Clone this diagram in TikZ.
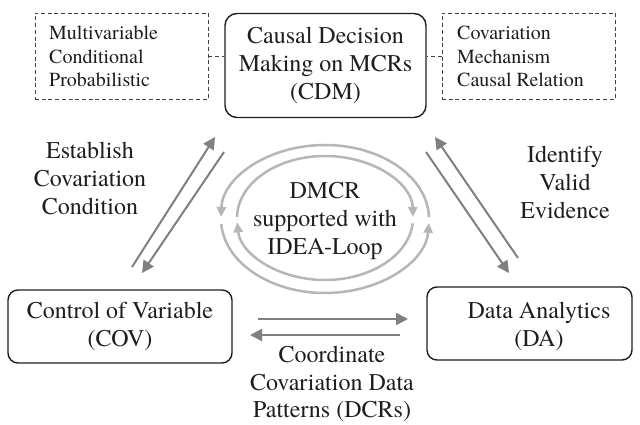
\documentclass[tikz,border=0pt]{standalone}
\usepackage{fontspec}
\IfFontExistsTF{texgyretermes-regular.otf}
  {\setmainfont{texgyretermes-regular.otf}[BoldFont=texgyretermes-bold.otf]}
  {}
\usetikzlibrary{arrows.meta}
\definecolor{flowgray}{RGB}{128,128,128}
\definecolor{loopgray}{RGB}{182,182,182}
\definecolor{ink}{RGB}{30,30,30}
\begin{document}
\begin{tikzpicture}[x=1pt,y=-1pt,
  mainfont/.style={font=\rmfamily\fontsize{24}{28}\selectfont},
  sidefont/.style={font=\rmfamily\fontsize{20}{23.5}\selectfont},
  procbox/.style={draw=ink, line width=1.4pt, rounded corners=12pt, inner sep=0pt,
                  mainfont, align=center, text=ink},
  notebox/.style={draw=ink!85, line width=0.9pt, dash pattern=on 4pt off 2.7pt, inner sep=0pt},
  notetext/.style={sidefont, align=left, anchor=west, inner sep=0pt, text=ink},
  flow/.style={draw=flowgray, line width=2pt, -{Triangle[length=12pt,width=12pt]}},
  loop/.style={draw=loopgray, line width=2.5pt, -{Triangle[length=10pt,width=9pt]}},
  tag/.style={mainfont, align=center, text=ink, inner sep=0pt},
]
\useasboundingbox[fill=white] (0,0) rectangle (640,425);

% --- top row: decision box and its two notes
\node[procbox, minimum width=201pt, minimum height=104pt] (cdm) at (325.5,65.5)
  {Causal Decision\\Making on MCRs\\(CDM)};
\node[notebox, minimum width=173pt, minimum height=86pt] (lnote) at (121.5,56) {};
\node[notetext] (ltext) at (49,56.5) {Multivariable\\Conditional\\Probabilistic};
\node[notebox, minimum width=173pt, minimum height=86pt] (rnote) at (528.5,56) {};
\node[notetext] (rtext) at (457,56.5) {Covariation\\Mechanism\\Causal Relation};
\draw[notebox] (lnote.east) -- (lnote.east -| cdm.west);
\draw[notebox] (rnote.west) -- (rnote.west -| cdm.east);

% --- bottom row
\node[procbox, rounded corners=10pt, minimum width=224pt, minimum height=73pt] (cov) at (120,326.5)
  {Control of Variable\\(COV)};
\node[draw=ink, line width=1.4pt, rounded corners=10pt, minimum width=205pt, minimum height=73pt,
      inner sep=0pt] (da) at (529.5,323.5) {};
\node[tag] (datext) at (539,326) {Data Analytics\\(DA)};

% --- flow arrows between the three boxes
\coordinate (l1s) at (132,267);  \coordinate (l1e) at (215,137);
\coordinate (l2s) at (224,152);  \coordinate (l2e) at (142,273);
\coordinate (r1s) at (518,258);  \coordinate (r1e) at (435,137);
\coordinate (r2s) at (426,152);  \coordinate (r2e) at (509,273);
\coordinate (h1s) at (258,319);  \coordinate (h1e) at (408,319);
\coordinate (h2s) at (400,335);  \coordinate (h2e) at (250,335);
\draw[flow] (l1s) -- (l1e);
\draw[flow] (l2s) -- (l2e);
\draw[flow] (r1s) -- (r1e);
\draw[flow] (r2s) -- (r2e);
\draw[flow] (h1s) -- (h1e);
\draw[flow] (h2s) -- (h2e);

% --- arrow labels
\node[tag] (est) at (90,178) {Establish\\Covariation\\Condition};
\node[tag] (idv) at (565,182) {Identify\\Valid\\Evidence};
\node[tag, font=\rmfamily\fontsize{24}{27.5}\selectfont] (coord) at (332,384)
  {Coordinate\\Covariation Data\\Patterns (DCRs)};

% --- central loop: outer ring counter-clockwise, inner ring clockwise
\coordinate (loopc) at (325,219);
\draw[loop] (loopc) ++(358.5:104 and 74) arc[start angle=358.5, end angle=181.5, x radius=104, y radius=74];
\draw[loop] (loopc) ++(176:104 and 74) arc[start angle=176, end angle=3, x radius=104, y radius=74];
\coordinate (innc) at (325,218);
\draw[loop] (innc) ++(181:88 and 62) arc[start angle=181, end angle=359, x radius=88, y radius=62];
\draw[loop] (innc) ++(5:88 and 62) arc[start angle=5, end angle=176, x radius=88, y radius=62];
\node[tag] (dmcr) at (325,221) {DMCR\\supported with\\IDEA-Loop};
\end{tikzpicture}
\end{document}
